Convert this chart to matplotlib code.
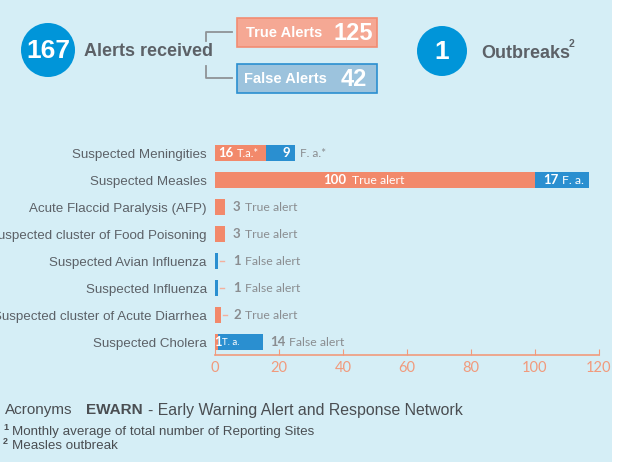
import matplotlib
matplotlib.use("Agg")
import matplotlib.pyplot as plt
from matplotlib.patches import Circle, Rectangle

# data
categories = [
    "Suspected Meningities",
    "Suspected Measles",
    "Acute Flaccid Paralysis (AFP)",
    "Suspected cluster of Food Poisoning",
    "Suspected Avian Influenza",
    "Suspected Influenza",
    "Suspected cluster of Acute Diarrhea",
    "Suspected Cholera",
]
true_alerts = [16, 100, 3, 3, 0, 0, 2, 1]
false_alerts = [9, 17, 0, 0, 1, 1, 0, 14]
x_ticks = [0, 20, 40, 60, 80, 100, 120]

total_alerts = 167
total_true = 125
total_false = 42
outbreaks = 1

BG = "#d5eef6"
ORANGE = "#f2896b"
BLUE = "#2a8fd0"
CIRCLE = "#0095d9"
GREY = "#5c6167"
LGREY = "#8a8d90"
TICK = "#f19a7c"
FOOT = "#4a4e52"

NARROW = ["Liberation Sans Narrow", "Liberation Sans", "DejaVu Sans"]
SANS = ["Liberation Sans", "DejaVu Sans"]
LBL = ["Lato", "DejaVu Sans"]


def bar_text(ax, x, y, dx, s, color, size, bold=False, ha="left"):
    # dx in pixels, converted to points (dpi 100)
    ax.annotate(s, xy=(x, y), xytext=(dx * 0.72, 0), textcoords="offset points",
                ha=ha, va="center", color=color, fontsize=size,
                fontweight="bold" if bold else "normal", family=LBL)


def main():
    fig = plt.figure(figsize=(6.18, 4.62), dpi=100, facecolor=BG)

    # overlay in pixel coords for header / footer
    ov = fig.add_axes([0, 0, 1, 1], zorder=0)
    ov.set_xlim(0, 618)
    ov.set_ylim(462, 0)
    ov.axis("off")
    ov.patch.set_alpha(0)
    ov.add_patch(Rectangle((612, 0), 6, 462, color="white", lw=0))

    ov.add_patch(Circle((48, 50), 27, color=CIRCLE, lw=0))
    ov.text(48, 51, str(total_alerts), ha="center", va="center", color="white",
            fontsize=19, fontweight="bold", family=NARROW)
    ov.text(84, 52, "Alerts received", ha="left", va="center", color=GREY,
            fontsize=13, fontweight="bold", family=NARROW)

    for seg in [([232, 206, 206], [32, 32, 41]), ([206, 206, 232], [66, 78, 78])]:
        ov.plot(seg[0], seg[1], color="#8f9396", lw=1.3)

    ov.add_patch(Rectangle((237, 18), 140, 29, facecolor="#f5a894",
                           edgecolor="#f28c72", lw=1.2))
    ov.text(246, 33, "True Alerts", ha="left", va="center", color="white",
            fontsize=10.5, fontweight="bold", family=NARROW)
    ov.text(373, 33, str(total_true), ha="right", va="center", color="white",
            fontsize=17, fontweight="bold", family=NARROW)
    ov.add_patch(Rectangle((237, 64), 140, 29, facecolor="#9cc3dd",
                           edgecolor=BLUE, lw=1.2))
    ov.text(244, 79, "False Alerts", ha="left", va="center", color="white",
            fontsize=10.5, fontweight="bold", family=NARROW)
    ov.text(367, 79, str(total_false), ha="right", va="center", color="white",
            fontsize=17, fontweight="bold", family=NARROW)

    ov.add_patch(Circle((442, 51), 25, color=CIRCLE, lw=0))
    ov.text(442, 52, str(outbreaks), ha="center", va="center", color="white",
            fontsize=19, fontweight="bold", family=NARROW)
    ov.text(481, 53, "Outbreaks", ha="left", va="center", color=GREY,
            fontsize=13, fontweight="bold", family=NARROW)
    ov.text(569, 44, "2", ha="left", va="center", color=GREY,
            fontsize=7.5, fontweight="bold", family=NARROW)

    ov.text(5, 410, "Acronyms", ha="left", va="center", color=FOOT,
            fontsize=11, family=SANS)
    ov.text(86, 410, "EWARN", ha="left", va="center", color=FOOT,
            fontsize=11, fontweight="bold", family=SANS)
    ov.text(148, 410, "- Early Warning Alert and Response Network", ha="left",
            va="center", color=FOOT, fontsize=11.4, family=SANS)
    ov.text(3, 427, "1", ha="left", va="center", color=FOOT,
            fontsize=6.5, fontweight="bold", family=SANS)
    ov.text(12, 432, "Monthly average of total number of Reporting Sites",
            ha="left", va="center", color=FOOT, fontsize=9.6, family=NARROW)
    ov.text(3, 441, "2", ha="left", va="center", color=FOOT,
            fontsize=6.5, fontweight="bold", family=SANS)
    ov.text(12, 446, "Measles outbreak", ha="left", va="center",
            color=FOOT, fontsize=9.6, family=NARROW)

    # bar chart
    ax = fig.add_axes([215 / 618, 107 / 462, 384 / 618, 215.5 / 462], zorder=1)
    ax.patch.set_alpha(0)
    y = list(range(len(categories)))
    h = 0.56
    ax.barh(y, true_alerts, height=h, color=ORANGE, lw=0)
    ax.barh(y, false_alerts, left=true_alerts, height=h, color=BLUE, lw=0)
    ax.set_xlim(0, 120)
    ax.set_ylim(7.48, -0.5)
    ax.set_yticks(y)
    ax.set_yticklabels(categories, family=NARROW, fontsize=9.6, color=GREY)
    ax.tick_params(axis="y", length=0, pad=6)
    ax.set_xticks(x_ticks)
    ax.set_xticklabels([str(t) for t in x_ticks], family=LBL, fontsize=10.5,
                       color=TICK)
    ax.tick_params(axis="x", direction="in", length=4, color=TICK, pad=4)
    for s in ["top", "right", "left"]:
        ax.spines[s].set_visible(False)
    ax.spines["bottom"].set_color(TICK)
    ax.spines["bottom"].set_linewidth(1.2)

    # Meningities
    bar_text(ax, 0, 0, 3, str(true_alerts[0]), "white", 9.5, True)
    bar_text(ax, 0, 0, 22, "T.a.*", "white", 8)
    bar_text(ax, true_alerts[0] + false_alerts[0], 0, -5, str(false_alerts[0]),
             "white", 9.5, True, ha="right")
    bar_text(ax, true_alerts[0] + false_alerts[0], 0, 5, "F. a.*", LGREY, 8.5)
    # Measles
    bar_text(ax, 0, 1, 108, str(true_alerts[1]), "white", 9.5, True)
    bar_text(ax, 0, 1, 137, "True alert", "white", 8.8)
    bar_text(ax, true_alerts[1], 1, 8, str(false_alerts[1]), "white", 9.5, True)
    bar_text(ax, true_alerts[1], 1, 27, "F. a.", "white", 8.8)
    # small rows
    for i in [2, 3, 4, 5, 6]:
        total = true_alerts[i] + false_alerts[i]
        word = "True alert" if true_alerts[i] else "False alert"
        if i >= 4:
            ax.plot([total + 0.6, total + 1.9], [i, i], color="#f4b09c", lw=1)
        bar_text(ax, 0, i, 18, str(total), LGREY, 9.5, True)
        bar_text(ax, 0, i, 30, word, LGREY, 8.8)
    # Cholera
    bar_text(ax, 0, 7, -1, str(true_alerts[7]), "white", 9.5, True)
    bar_text(ax, true_alerts[7], 7, 4, "T. a.", "white", 7)
    bar_text(ax, true_alerts[7] + false_alerts[7], 7, 7, str(false_alerts[7]),
             LGREY, 9.5, True)
    bar_text(ax, true_alerts[7] + false_alerts[7], 7, 26, "False alert", LGREY, 8.8)

    fig.savefig("out.png", dpi=100, facecolor=BG)
    plt.close(fig)


if __name__ == "__main__":
    main()
